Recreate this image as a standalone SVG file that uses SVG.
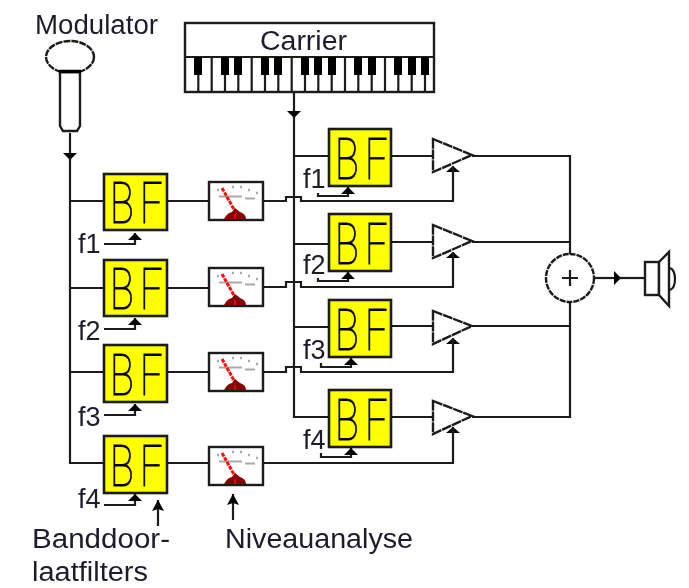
<svg xmlns="http://www.w3.org/2000/svg" xmlns:xlink="http://www.w3.org/1999/xlink" width="689" height="588" viewBox="0 0 689 588">
<style>
.w{fill:none;stroke:#1a1a1a;stroke-width:2.2}
.s{fill:#fff;stroke:#1a1a1a;stroke-width:2.4}
.b{fill:#ffff00;stroke:#1a1a1a;stroke-width:2.6}
.bf{font-family:"Roboto","Liberation Sans",sans-serif;font-weight:100;font-size:58px;letter-spacing:9px;fill:#000;stroke:#000;stroke-width:.9}
.t{font-family:"Liberation Sans",Arial,sans-serif;font-size:27px;fill:#1c1c2c}
.k{fill:#000}
</style>
<defs>
<filter id="soft" x="0" y="0" width="100%" height="100%"><feGaussianBlur stdDeviation="0.5"/></filter>
<marker id="a" markerUnits="userSpaceOnUse" markerWidth="8" markerHeight="16" viewBox="0 0 8 16" refX="7" refY="8" orient="auto"><path d="M0 1L7 8L0 15Z" fill="#000"/></marker>
<marker id="o" markerUnits="userSpaceOnUse" markerWidth="12" markerHeight="14" viewBox="0 0 12 14" refX="11" refY="7" orient="auto"><path d="M0 1L11 7L0 13L2 7Z" fill="#000"/></marker>
<g id="mt">
<rect class="s" x="0" y="0" width="54" height="38"/>
<path d="M8 8h2M23 5h2M31 5h2M39 8h2M47 11h2" stroke="#aaa" stroke-width="2.500" fill="none"/>
<path d="M10 14.500H33M36 16.500H46" stroke="#aaa" stroke-width="2" fill="none"/>
<path d="M13 6L27 31" stroke="#ff1010" stroke-width="3" stroke-dasharray="4 1" fill="none"/>
<path d="M15 37Q18 31 23 30L26 26L31 30Q37 32 37 37Z" fill="#8a0000"/>
<path d="M26 32V37" stroke="#e01010" stroke-width="1.600"/>
</g>
</defs>
<g filter="url(#soft)">
<rect width="689" height="588" fill="#fff"/>
<g id="connectors">
<path class="w" d="M70 133V160" marker-end="url(#a)"/>
<path class="w" d="M70 158V463H104M70 201H104M70 288H104M70 372H104"/>
<path class="w" d="M294 92V118" marker-end="url(#a)"/>
<path class="w" d="M294 116V417H329M294 156H329M294 244H329M294 327H329"/>
<path class="w" d="M167 201H209M167 288H209M167 372H209M167 463H209"/>
<path class="w" d="M391 156H433M391 242H433M391 326H433M391 417H433"/>
<path class="w" d="M263 201H286V197H301V201H453V172"/>
<path class="w" d="M263 287H286V282H301V287H453V258"/>
<path class="w" d="M263 372H286V367H301V372H453V344"/>
<path class="w" d="M263 463H453V433"/>
<path class="w" d="M472 156H570V254M472 242H570M472 326H570M472 417H570V302"/>
<path class="w" d="M594 278H621" marker-end="url(#a)"/>
<path class="w" d="M619 278H644"/>
<path class="w" d="M104 244H135V233" marker-end="url(#a)"/>
<path class="w" d="M104 329H135V318" marker-end="url(#a)"/>
<path class="w" d="M104 415H135V404" marker-end="url(#a)"/>
<path class="w" d="M104 505H135V494" marker-end="url(#a)"/>
<path class="w" d="M318 193V196H348V187" marker-end="url(#a)"/>
<path class="w" d="M318 278V281H348V272" marker-end="url(#a)"/>
<path class="w" d="M321 363V367H351V358" marker-end="url(#a)"/>
<path class="w" d="M321 453V457H351V448" marker-end="url(#a)"/>
<path class="w" d="M158 526V500" marker-end="url(#o)"/>
<path class="w" d="M233 520V494" marker-end="url(#o)"/>
</g>
<g id="modulator">
<ellipse class="s" cx="70" cy="57" rx="24" ry="16" stroke-dasharray="7 1"/>
<path class="s" d="M60 72H80V126L77 131H63L60 126Z"/>
<path d="M59 71.500H81" stroke="#000" stroke-width="3.500"/>
<text class="t" x="35" y="34" textLength="123" lengthAdjust="spacingAndGlyphs">Modulator</text>
</g>
<g id="carrier">
<rect class="s" x="185" y="23" width="249" height="69"/>
<path class="w" d="M185 57H434M198.300 57V92M211.700 57V92M225 57V92M238.300 57V92M251.700 57V92M265 57V92M278.300 57V92M291.700 57V92M305 57V92M318.300 57V92M331.700 57V92M345 57V92M358.300 57V92M371.700 57V92M385 57V92M398.300 57V92M411.700 57V92M425 57V92" stroke-width="2.600"/>
<path class="k" d="M194 57h8v18h-8zM221 57h8v18h-8zM234 57h8v18h-8zM261 57h8v18h-8zM274 57h8v18h-8zM301 57h8v18h-8zM314 57h8v18h-8zM328 57h8v18h-8zM354 57h8v18h-8zM368 57h8v18h-8zM394 57h8v18h-8zM408 57h8v18h-8zM421 57h8v18h-8z"/>
<text class="t" x="260" y="50" textLength="87" lengthAdjust="spacingAndGlyphs">Carrier</text>
</g>
<g id="bf-l1"><rect class="b" x="104" y="174" width="63" height="56"/><text class="bf" transform="translate(110,223) scale(.68,1)">BF</text><text class="t" x="78" y="253">f1</text></g>
<g id="bf-l2"><rect class="b" x="104" y="260" width="63" height="56"/><text class="bf" transform="translate(110,309) scale(.68,1)">BF</text><text class="t" x="78" y="340">f2</text></g>
<g id="bf-l3"><rect class="b" x="104" y="345" width="63" height="57"/><text class="bf" transform="translate(110,395) scale(.68,1)">BF</text><text class="t" x="78" y="426">f3</text></g>
<g id="bf-l4"><rect class="b" x="104" y="436" width="63" height="57"/><text class="bf" transform="translate(110,486) scale(.68,1)">BF</text><text class="t" x="78" y="508">f4</text></g>
<g id="meter-1"><use href="#mt" xlink:href="#mt" x="209" y="182"/></g>
<g id="meter-2"><use href="#mt" xlink:href="#mt" x="209" y="268"/></g>
<g id="meter-3"><use href="#mt" xlink:href="#mt" x="209" y="353"/></g>
<g id="meter-4"><use href="#mt" xlink:href="#mt" x="209" y="447"/></g>
<g id="bf-r1"><rect class="b" x="329" y="129" width="62" height="57"/><text class="bf" transform="translate(335,179) scale(.68,1)">BF</text><text class="t" x="303" y="188">f1</text></g>
<g id="bf-r2"><rect class="b" x="329" y="214" width="62" height="57"/><text class="bf" transform="translate(335,264) scale(.68,1)">BF</text><text class="t" x="303" y="274">f2</text></g>
<g id="bf-r3"><rect class="b" x="329" y="300" width="62" height="57"/><text class="bf" transform="translate(335,350) scale(.68,1)">BF</text><text class="t" x="303" y="359">f3</text></g>
<g id="bf-r4"><rect class="b" x="329" y="390" width="62" height="57"/><text class="bf" transform="translate(335,440) scale(.68,1)">BF</text><text class="t" x="303" y="449">f4</text></g>
<g id="amp-1"><path class="s" d="M433 139L472 155L433 172Z" stroke-dasharray="10 .8"/></g>
<g id="amp-2"><path class="s" d="M433 225L472 241L433 258Z" stroke-dasharray="10 .8"/></g>
<g id="amp-3"><path class="s" d="M433 311L472 326L433 344Z" stroke-dasharray="10 .8"/></g>
<g id="amp-4"><path class="s" d="M433 401L472 416L433 434Z" stroke-dasharray="10 .8"/></g>
<g id="amp-arrows">
<path d="M446 172L453 166L460 172Z M446 258L453 252L460 258Z M446 344L453 338L460 344Z M446 433L453 427L460 433Z" fill="#000"/>
<path class="w" d="M453 172V166M453 258V252M453 344V338M453 433V427"/>
</g>
<g id="sum">
<circle class="s" cx="570" cy="278" r="24" stroke-dasharray="6 1"/>
<path class="w" d="M562 278H578M570 270V286"/>
</g>
<g id="speaker">
<rect class="s" x="645" y="262" width="14" height="33"/>
<path class="s" d="M659 262L669 252V306L659 295Z"/>
<path class="w" d="M670 268Q675 270 675 279Q675 288 670 290"/>
</g>
<g id="labels">
<text class="t" x="32" y="548" textLength="138" lengthAdjust="spacingAndGlyphs">Banddoor-</text>
<text class="t" x="32" y="581" textLength="116" lengthAdjust="spacingAndGlyphs">laatfilters</text>
<text class="t" x="225" y="548" textLength="188" lengthAdjust="spacingAndGlyphs">Niveauanalyse</text>
</g>
</g>
</svg>
